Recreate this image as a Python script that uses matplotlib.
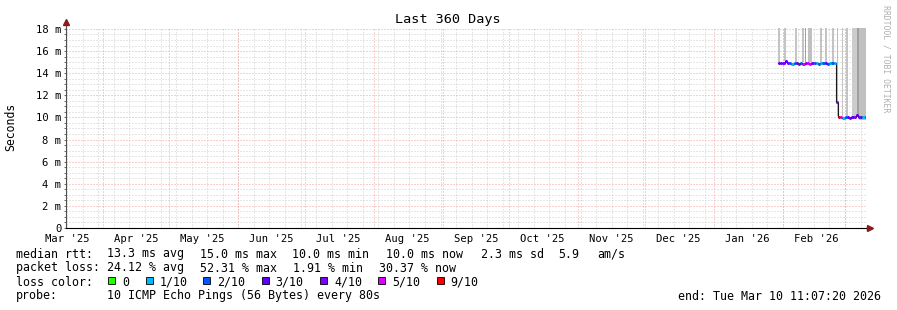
import datetime as dt
import matplotlib
matplotlib.use("Agg")
import matplotlib.pyplot as plt
from matplotlib.patches import Rectangle

plt.rcParams['font.family'] = ['DejaVu Sans Mono']

W, H = 897, 310

end_time = dt.datetime(2026, 3, 10, 11, 7, 20)
start_time = end_time - dt.timedelta(days=360)

# median rtt samples (day since graph start, value in ms)
med_day = [320.4, 321.4, 322.4, 323.4, 324.4, 325.4, 326.4, 327.4, 328.4, 329.4,
           330.4, 331.4, 332.4, 333.4, 334.4, 335.4, 336.4, 337.4, 338.4, 339.4,
           340.4, 341.4, 342.4, 343.4, 344.4, 345.4, 346.5, 347.4, 348.4, 349.4,
           350.4, 351.4, 352.4, 353.4, 354.4, 355.4, 356.4, 357.4, 358.4, 359.4]
med_ms = [14.9, 14.9, 14.95, 15.1, 14.9, 14.9, 14.85, 14.9, 14.9, 14.85,
          14.9, 14.85, 14.9, 14.9, 14.85, 14.9, 14.9, 14.9, 14.85, 14.9,
          14.9, 14.9, 14.85, 14.9, 14.9, 14.9, 11.4, 10.0, 10.0, 9.95,
          10.0, 10.0, 9.95, 10.0, 10.0, 10.25, 10.05, 10.0, 10.0, 10.0]
# loss colour index per sample
loss_idx = [3, 4, 4, 3, 4, 2, 1, 2, 3, 4,
            2, 5, 4, 5, 5, 4, 2, 1, 2, 1,
            2, 3, 2, 1, 2, 1, 4, 6, 5, 1,
            2, 3, 4, 3, 4, 3, 4, 3, 1, 2]

loss_labels = ["0", "1/10", "2/10", "3/10", "4/10", "5/10", "9/10"]
loss_colors = ["#26ff00", "#00b8ff", "#0059ff", "#5e00ff", "#7e00ff", "#dd00ff", "#ff0000"]

# smoke (spread of pings)
smoke_start = [320.6, 322.9, 328.1, 331.0, 332.5, 333.8, 339.1, 341.7, 344.5,
               346.8, 349.0, 351.2, 353.8, 356.1, 356.7]
smoke_end = [321.3, 323.9, 329.1, 332.0, 333.2, 335.6, 340.2, 342.5, 345.7,
             347.6, 349.8, 352.0, 356.7, 356.9, 360.0]
smoke_lo = [15.0, 15.1, 15.0, 15.0, 15.0, 15.0, 15.0, 15.0, 15.0,
            10.1, 10.1, 10.1, 10.1, 10.1, 9.8]
smoke_hi = [18.2] * 15
smoke_col = ["#c4c4c4", "#c4c4c4", "#c4c4c4", "#c4c4c4", "#a0a0a0", "#c0c0c0",
             "#c4c4c4", "#c4c4c4", "#c4c4c4", "#bcbcbc", "#c4c4c4", "#c4c4c4",
             "#cccccc", "#a0a0a0", "#c0c0c0"]

y_ticks = [0, 2, 4, 6, 8, 10, 12, 14, 16, 18]
y_labels = ["0", "2 m", "4 m", "6 m", "8 m", "10 m", "12 m", "14 m", "16 m", "18 m"]


def day_of(t):
    return (t - start_time).total_seconds() / 86400.0


def fx(x):
    return x / W


def fy(y):
    return 1 - y / H


fig = plt.figure(figsize=(W / 100, H / 100), dpi=100)
fig.patch.set_facecolor("white")
ax = fig.add_axes([66 / W, 82 / H, 800 / W, 200 / H])
ax.set_xlim(0, 360)
ax.set_ylim(0, 200 / 11.06)

# grid
month_starts = []
labels_pos = []
labels_txt = []
y, m = 2025, 3
while True:
    d = dt.datetime(y, m, 1)
    if d > end_time:
        break
    if d >= start_time:
        month_starts.append(day_of(d))
    lp = day_of(d + dt.timedelta(days=15))
    if 0 <= lp <= 360:
        labels_pos.append(lp)
        labels_txt.append(d.strftime("%b '%y"))
    m += 1
    if m > 12:
        m, y = 1, y + 1

sunday = dt.datetime(2025, 3, 16)
while sunday < end_time:
    ax.axvline(day_of(sunday), color="#cfcfcf", lw=0.72, ls=(0, (1, 2)), zorder=1)
    sunday += dt.timedelta(days=7)
for v in range(0, 37):
    if v % 4:
        ax.axhline(v * 0.5, color="#cfcfcf", lw=0.72, ls=(0, (1, 2)), zorder=1)
for d in month_starts:
    ax.axvline(d, color="#f4a0a0", lw=0.72, ls=(0, (1, 2)), zorder=2)
for v in y_ticks[1:]:
    ax.axhline(v, color="#f4a0a0", lw=0.72, ls=(0, (1, 2)), zorder=2)

# smoke
for s, e, lo, hi, c in zip(smoke_start, smoke_end, smoke_lo, smoke_hi, smoke_col):
    ax.bar(s, hi - lo, bottom=lo, width=e - s, align="edge", color=c, linewidth=0, zorder=3)

# median line
ax.plot(med_day + [360], med_ms + [med_ms[-1]], drawstyle="steps-post",
        color="#1a1a1a", lw=0.8, zorder=4)
seg_end = med_day[1:] + [360]
ax.hlines(med_ms, med_day, seg_end, colors=[loss_colors[i] for i in loss_idx],
          lw=2.2, zorder=5)

# axes
for s in ["top", "right"]:
    ax.spines[s].set_visible(False)
ax.spines["left"].set_color("#505050")
ax.spines["bottom"].set_color("black")
ax.plot([0, 0], [1, 1.025], transform=ax.transAxes, color="#505050", lw=0.8, clip_on=False)
ax.plot([1, 1.006], [0, 0], transform=ax.transAxes, color="black", lw=0.8, clip_on=False)
ax.plot(0, 1.028, marker="^", color="#8b1a1a", markersize=5, transform=ax.transAxes, clip_on=False)
ax.plot(1.005, 0, marker=">", color="#8b1a1a", markersize=5, transform=ax.transAxes, clip_on=False)

ax.set_yticks(y_ticks)
ax.set_yticklabels(y_labels)
ax.set_yticks([v * 0.5 for v in range(37) if v % 4], minor=True)
ax.tick_params(axis="y", which="both", length=1.5, width=0.6, color="#505050",
               labelsize=7.6, pad=1.8)
ax.set_xticks(labels_pos)
ax.set_xticklabels(labels_txt)
ax.tick_params(axis="x", length=0, labelsize=7.6, pad=4.2)

fig.text(fx(11), fy(127), "Seconds", rotation=90, ha="center", va="center", fontsize=8.3)
fig.text(fx(448), fy(19), "Last 360 Days", ha="center", va="center", fontsize=9.7)
fig.text(fx(886), fy(59), "RRDTOOL / TOBI OETIKER", rotation=270, ha="center",
         va="center", fontsize=5.9, color="#b0b0b0")

# legend
fs = 8.4
rows = [254, 268, 282, 296]
fig.text(fx(16), fy(rows[0]), "median rtt:", va="center", fontsize=fs)
for x, t in zip([106.5, 200.3, 292.3, 386, 481, 558, 597],
                ["13.3 ms avg", "15.0 ms max", "10.0 ms min", "10.0 ms now",
                 "2.3 ms sd", "5.9", "am/s"]):
    fig.text(fx(x), fy(rows[0]), t, va="center", fontsize=fs)
fig.text(fx(16), fy(rows[1]), "packet loss:", va="center", fontsize=fs)
for x, t in zip([106.5, 200.3, 293.3, 379.3],
                ["24.12 % avg", "52.31 % max", "1.91 % min", "30.37 % now"]):
    fig.text(fx(x), fy(rows[1]), t, va="center", fontsize=fs)
fig.text(fx(16), fy(rows[2]), "loss color:", va="center", fontsize=fs)
box_x = [108.3, 145.7, 203.3, 261.7, 320.0, 378.3, 436.7]
for bx, lab, c in zip(box_x, loss_labels, loss_colors):
    fig.patches.append(Rectangle((fx(bx), fy(284.3)), 7 / W, 7 / H, facecolor=c,
                                 edgecolor="black", lw=0.6, transform=fig.transFigure))
    fig.text(fx(bx + 14), fy(rows[2]), lab, va="center", fontsize=fs)
fig.text(fx(16), fy(rows[3]), "probe:", va="center", fontsize=fs)
fig.text(fx(106.5), fy(rows[3]), "10 ICMP Echo Pings (56 Bytes) every 80s", va="center", fontsize=fs)
fig.text(fx(881), fy(rows[3]), "end: Tue Mar 10 11:07:20 2026", ha="right", va="center", fontsize=fs)

fig.savefig("out.png", dpi=100, facecolor="white")
